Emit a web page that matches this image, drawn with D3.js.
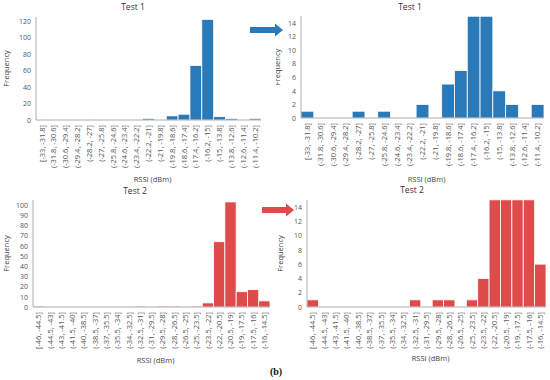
<!DOCTYPE html>
<html>
  <head>
    <title>RSSI histograms</title>
    <script src="https://d3js.org/d3.v7.min.js"></script>
    <style>
      body { margin: 0; background: #fff; }
      text { font-family: "Open Sans", sans-serif; }
    </style>
  </head>
  <body>
    <div id="chart"></div>

    <script>
      // Test 1 bins (width 1.2 dBm)
      const bins1 = ["[-33, -31.8]", "(-31.8, -30.6]", "(-30.6, -29.4]", "(-29.4, -28.2]", "(-28.2, -27]",
        "(-27, -25.8]", "(-25.8, -24.6]", "(-24.6, -23.4]", "(-23.4, -22.2]", "(-22.2, -21]",
        "(-21, -19.8]", "(-19.8, -18.6]", "(-18.6, -17.4]", "(-17.4, -16.2]", "(-16.2, -15]",
        "(-15, -13.8]", "(-13.8, -12.6]", "(-12.6, -11.4]", "(-11.4, -10.2]"];
      const freq1 = [1, 0, 0, 0, 1, 0, 1, 0, 0, 2, 0, 5, 7, 66, 122, 4, 2, 0, 2];

      // Test 2 bins (width 1.5 dBm)
      const bins2 = ["[-46, -44.5]", "(-44.5, -43]", "(-43, -41.5]", "(-41.5, -40]", "(-40, -38.5]",
        "(-38.5, -37]", "(-37, -35.5]", "(-35.5, -34]", "(-34, -32.5]", "(-32.5, -31]",
        "(-31, -29.5]", "(-29.5, -28]", "(-28, -26.5]", "(-26.5, -25]", "(-25, -23.5]",
        "(-23.5, -22]", "(-22, -20.5]", "(-20.5, -19]", "(-19, -17.5]", "(-17.5, -16]", "(-16, -14.5]"];
      const freq2 = [1, 0, 0, 0, 0, 0, 0, 0, 0, 1, 0, 1, 1, 0, 1, 4, 64, 103, 15, 17, 6];

      const ticks1Full = [0, 20, 40, 60, 80, 100, 120];
      const ticks2Full = [0, 10, 20, 30, 40, 50, 60, 70, 80, 90, 100];
      const ticksZoom = [0, 2, 4, 6, 8, 10, 12, 14];

      const blue = "#2a7aba";
      const red = "#de4b4b";

      const svg = d3.select("#chart").append("svg").attr("width", 550).attr("height", 380);

      const defs = svg.append("defs");
      defs.append("clipPath").attr("id", "clipR")
        .append("rect").attr("x", 276).attr("y", 0).attr("width", 274).attr("height", 380);

      function panel(opt) {
        const g = svg.append("g");
        if (opt.clip) g.attr("clip-path", "url(#clipR)");

        const x = d3.scaleBand().domain(opt.bins).range([opt.left, opt.right]).padding(0);
        const y = d3.scaleLinear().domain([0, opt.tickVal]).range([opt.base, opt.tickY]);
        const yCap = opt.cap != null ? opt.cap : Infinity;

        // bars
        g.selectAll("rect.bar")
          .data(opt.values)
          .enter()
          .append("rect")
          .attr("class", "bar")
          .attr("x", (d, i) => x(opt.bins[i]))
          .attr("width", x.bandwidth())
          .attr("y", d => y(Math.min(d, yCap)))
          .attr("height", d => opt.base - y(Math.min(d, yCap)))
          .attr("fill", opt.color)
          .attr("stroke", "#fff")
          .attr("stroke-width", 0.8);

        // axis lines
        g.append("line").attr("x1", opt.left).attr("x2", opt.left)
          .attr("y1", opt.axisTop).attr("y2", opt.base)
          .attr("stroke", "#9a9a9a").attr("stroke-width", 0.8);
        g.append("line").attr("x1", opt.left).attr("x2", opt.right)
          .attr("y1", opt.base).attr("y2", opt.base)
          .attr("stroke", "#9a9a9a").attr("stroke-width", 0.8);

        // y ticks
        const yAxis = d3.axisLeft(y).tickValues(opt.ticks).tickSize(0).tickPadding(5);
        const ya = g.append("g").attr("transform", `translate(${opt.left},0)`).call(yAxis);
        ya.select(".domain").remove();
        ya.selectAll("text").style("font-size", "7px").attr("fill", "#555");

        // x ticks, rotated
        const xAxis = d3.axisBottom(x).tickSize(0).tickPadding(0);
        const xa = g.append("g").attr("transform", `translate(0,${opt.base})`).call(xAxis);
        xa.select(".domain").remove();
        xa.selectAll("text")
          .style("font-size", "7.5px")
          .attr("fill", "#555")
          .attr("text-anchor", "end")
          .attr("transform", "rotate(-90)")
          .attr("x", -5)
          .attr("y", 0)
          .attr("dy", "0.35em");

        // titles
        g.append("text").attr("x", opt.titleX).attr("y", opt.titleY)
          .attr("text-anchor", "middle").style("font-size", "8.5px").attr("fill", "#333")
          .text(opt.title);
        g.append("text").attr("x", (opt.left + opt.right) / 2 + 4).attr("y", opt.xTitleY)
          .attr("text-anchor", "middle").style("font-size", "7.5px").attr("fill", "#444")
          .text("RSSI (dBm)");
        g.append("text")
          .attr("transform", `translate(${opt.yTitleX},${(opt.axisTop + opt.base) / 2}) rotate(-90)`)
          .attr("text-anchor", "middle").style("font-size", "7.5px").attr("fill", "#444")
          .text("Frequency");
      }

      panel({ bins: bins1, values: freq1, color: blue, left: 36, right: 261, base: 120,
        tickVal: 120, tickY: 21, axisTop: 17, ticks: ticks1Full,
        title: "Test 1", titleX: 133, titleY: 10, xTitleY: 182, yTitleX: 9 });

      panel({ bins: bins1, values: freq1, color: blue, left: 301, right: 544, base: 118,
        tickVal: 14, tickY: 23, cap: 15, axisTop: 16, ticks: ticksZoom, clip: true,
        title: "Test 1", titleX: 410, titleY: 10, xTitleY: 182, yTitleX: 280 });

      panel({ bins: bins2, values: freq2, color: red, left: 33, right: 270, base: 307,
        tickVal: 100, tickY: 205, axisTop: 200, ticks: ticks2Full,
        title: "Test 2", titleX: 135, titleY: 194, xTitleY: 363, yTitleX: 9 });

      panel({ bins: bins2, values: freq2, color: red, left: 307, right: 546, base: 307,
        tickVal: 14, tickY: 207, cap: 15, axisTop: 200, ticks: ticksZoom, clip: true,
        title: "Test 2", titleX: 412, titleY: 193, xTitleY: 361, yTitleX: 283 });

      // arrows between panels
      function arrow(x0, x1, cy, color) {
        const head = 8;
        const pts = [[x0, cy - 3], [x1 - head, cy - 3], [x1 - head, cy - 6.5], [x1, cy],
          [x1 - head, cy + 6.5], [x1 - head, cy + 3], [x0, cy + 3]];
        svg.append("polygon").attr("points", pts.map(p => p.join(",")).join(" ")).attr("fill", color);
      }
      arrow(250, 283, 30, blue);
      arrow(262, 294, 210, red);

      svg.append("text").attr("x", 276).attr("y", 375).attr("text-anchor", "middle")
        .style("font-family", "'Liberation Serif', serif").style("font-weight", "bold")
        .style("font-size", "10px").attr("fill", "#111").text("(b)");
    </script>
  </body>
</html>
